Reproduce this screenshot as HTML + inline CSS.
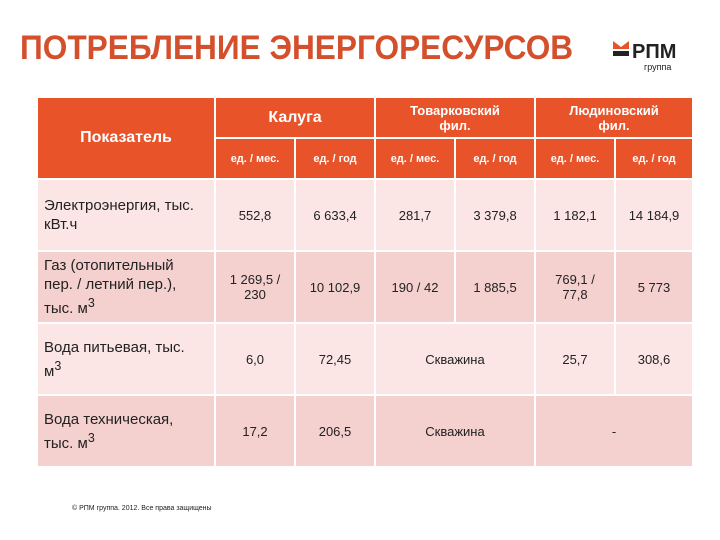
<!DOCTYPE html>
<html><head><meta charset="utf-8"><style>
body{margin:0;width:720px;height:540px;background:#fff;position:relative;overflow:hidden;font-family:"Liberation Sans",sans-serif}
h1{position:absolute;left:20px;top:29px;margin:0;font-size:34px;font-weight:bold;color:#d4502c;white-space:nowrap;transform:scaleX(0.93);transform-origin:left}
.logo{position:absolute;left:610px;top:38px}
table{position:absolute;left:36px;top:96px;border-collapse:separate;border-spacing:2px;font-size:13px;color:#222}
td,th{padding:0;text-align:center;vertical-align:middle}
th{background:#e8532a;color:#fff;font-weight:bold}
.sub{font-size:11px;height:39px}
.r1 td{background:#fbe6e5;height:70px}
.r2 td{background:#f4d0cf;height:70px}
td.lab{text-align:left;padding-left:6px;padding-right:14px;font-size:15px;line-height:19px;width:156px}
.foot{position:absolute;left:72px;top:505px;font-size:7px;color:#222}
</style></head><body>
<h1>ПОТРЕБЛЕНИЕ ЭНЕРГОРЕСУРСОВ</h1>
<div class="logo">
<svg width="84" height="36"><path d="M3 3 L11 9 L19 3 L19 11 L3 11Z" fill="#e8532a"/><rect x="3" y="13" width="16" height="5" fill="#222"/><text x="22" y="20" font-family="Liberation Sans" font-weight="bold" font-size="20" fill="#222">РПМ</text><text x="34" y="32" font-family="Liberation Sans" font-size="9" fill="#222">группа</text></svg></div>
<table>
<tr><th rowspan="2" style="width:176px;font-size:16px">Показатель</th>
<th colspan="2" style="height:39px;font-size:16px">Калуга</th>
<th colspan="2" style="font-size:13px">Товарковский<br>фил.</th>
<th colspan="2" style="font-size:13px">Людиновский<br>фил.</th></tr>
<tr class="sub"><th style="width:78px">ед. / мес.</th><th style="width:78px">ед. / год</th><th style="width:78px">ед. / мес.</th><th style="width:78px">ед. / год</th><th style="width:78px">ед. / мес.</th><th style="width:76px">ед. / год</th></tr>
<tr class="r1"><td class="lab">Электроэнергия, тыс. кВт.ч</td><td>552,8</td><td>6 633,4</td><td>281,7</td><td>3 379,8</td><td>1 182,1</td><td>14 184,9</td></tr>
<tr class="r2"><td class="lab">Газ (отопительный пер. / летний пер.), тыс. м<sup>3</sup></td><td>1 269,5 /<br>230</td><td>10 102,9</td><td>190 / 42</td><td>1 885,5</td><td>769,1 /<br>77,8</td><td>5 773</td></tr>
<tr class="r1"><td class="lab">Вода питьевая, тыс. м<sup>3</sup></td><td>6,0</td><td>72,45</td><td colspan="2">Скважина</td><td>25,7</td><td>308,6</td></tr>
<tr class="r2"><td class="lab">Вода техническая, тыс. м<sup>3</sup></td><td>17,2</td><td>206,5</td><td colspan="2">Скважина</td><td colspan="2">-</td></tr>
</table>
<div class="foot">© РПМ группа. 2012. Все права защищены</div>
</body></html>
